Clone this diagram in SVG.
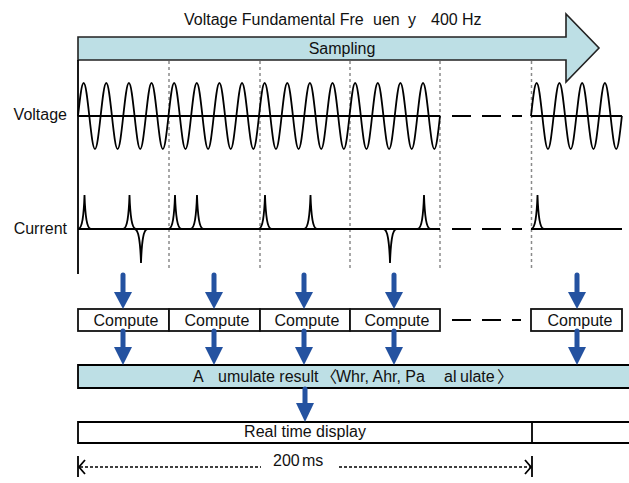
<svg xmlns="http://www.w3.org/2000/svg" xmlns:xlink="http://www.w3.org/1999/xlink" width="629" height="483" viewBox="0 0 629 483">
<style>
text{font-family:"Liberation Sans",Arial,"Noto Sans CJK JP",sans-serif;font-size:16px;fill:#111}
.cjk{font-family:"Noto Sans CJK JP","Liberation Sans",sans-serif}
.w{fill:none;stroke:#000;stroke-width:1.8}
.box{fill:#fff;stroke:#111;stroke-width:1.8}
.blue{fill:#bddfe5;stroke:#222;stroke-width:1.6}
.grid{stroke:#8a8a8a;stroke-width:1.5;stroke-dasharray:3 3;fill:none}
.gap{stroke:#000;stroke-width:1.8;stroke-dasharray:19 11;fill:none}
.sh{stroke:#2452a0;stroke-width:5;stroke-linecap:round;fill:none}
.hd{fill:#2452a0}
</style>
<defs>
<path id="per" class="w" d="M0,0 C1.845,-16.9 3.609,-33 5.656,-33 C7.703,-33 9.467,-16.9 11.3125,0 C13.158,16.9 14.922,33 16.969,33 C19.016,33 20.78,16.9 22.625,0"/>
<path id="spk" class="w" d="M-6.5,0 C-2.2,0 -0.7,-14 0,-34 C0.7,-14 2.2,0 6.5,0"/>
</defs>

<text x="184" y="25">Voltage Fundamental Fre<tspan x="373">uen</tspan><tspan x="408">y</tspan><tspan x="431">400</tspan><tspan x="462">Hz</tspan></text>

<g id="sampling">
<polygon class="blue" points="78,37 566,37 566,14 599,48 566,82 566,60 78,60"/>
<text x="342" y="54" text-anchor="middle">Sampling</text>
</g>

<g id="grid">
<line class="grid" x1="169" y1="61" x2="169" y2="271"/>
<line class="grid" x1="260" y1="61" x2="260" y2="271"/>
<line class="grid" x1="350" y1="61" x2="350" y2="271"/>
<line class="grid" x1="440" y1="61" x2="440" y2="271"/>
<line class="grid" x1="531.5" y1="61" x2="531.5" y2="271"/>
<line class="w" x1="78" y1="60" x2="78" y2="274"/>
</g>

<g id="voltage">
<text x="67" y="120" text-anchor="end">Voltage</text>
<line class="w" x1="78" y1="116" x2="440" y2="116"/>
<line class="w" x1="531" y1="116" x2="622" y2="116"/>
<line class="gap" x1="452" y1="116" x2="522" y2="116"/>
<use xlink:href="#per" x="78" y="116"/>
<use xlink:href="#per" x="100.625" y="116"/>
<use xlink:href="#per" x="123.25" y="116"/>
<use xlink:href="#per" x="145.875" y="116"/>
<use xlink:href="#per" x="168.5" y="116"/>
<use xlink:href="#per" x="191.125" y="116"/>
<use xlink:href="#per" x="213.75" y="116"/>
<use xlink:href="#per" x="236.375" y="116"/>
<use xlink:href="#per" x="259" y="116"/>
<use xlink:href="#per" x="281.625" y="116"/>
<use xlink:href="#per" x="304.25" y="116"/>
<use xlink:href="#per" x="326.875" y="116"/>
<use xlink:href="#per" x="349.5" y="116"/>
<use xlink:href="#per" x="372.125" y="116"/>
<use xlink:href="#per" x="394.75" y="116"/>
<use xlink:href="#per" x="417.375" y="116"/>
<use xlink:href="#per" x="531" y="116"/>
<use xlink:href="#per" x="553.75" y="116"/>
<use xlink:href="#per" x="576.5" y="116"/>
<use xlink:href="#per" x="599.25" y="116"/>
</g>

<g id="current">
<text x="67" y="234" text-anchor="end">Current</text>
<line class="w" x1="78" y1="229" x2="440" y2="229"/>
<line class="w" x1="531" y1="229" x2="622" y2="229"/>
<line class="gap" x1="452" y1="229" x2="522" y2="229"/>
<use xlink:href="#spk" transform="translate(84.5,229)"/>
<use xlink:href="#spk" transform="translate(129.5,229)"/>
<use xlink:href="#spk" transform="translate(141,229) scale(1,-1)"/>
<use xlink:href="#spk" transform="translate(175,229)"/>
<use xlink:href="#spk" transform="translate(197,229)"/>
<use xlink:href="#spk" transform="translate(265,229)"/>
<use xlink:href="#spk" transform="translate(310.5,229)"/>
<use xlink:href="#spk" transform="translate(390,229) scale(1,-1)"/>
<use xlink:href="#spk" transform="translate(424,229)"/>
<use xlink:href="#spk" transform="translate(537.5,229)"/>
</g>

<g id="compute1"><rect class="box" x="78" y="309" width="91" height="22"/><text x="126" y="325.5" text-anchor="middle">Compute</text></g>
<g id="compute2"><rect class="box" x="169" y="309" width="91" height="22"/><text x="217" y="325.5" text-anchor="middle">Compute</text></g>
<g id="compute3"><rect class="box" x="260" y="309" width="90" height="22"/><text x="307" y="325.5" text-anchor="middle">Compute</text></g>
<g id="compute4"><rect class="box" x="350" y="309" width="90" height="22"/><text x="397" y="325.5" text-anchor="middle">Compute</text></g>
<g id="compute5"><rect class="box" x="531" y="309" width="91" height="22"/><text x="580" y="325.5" text-anchor="middle">Compute</text></g>
<line class="gap" x1="452" y1="320" x2="521" y2="320"/>

<g id="accumulate">
<rect x="78" y="365" width="551" height="23" fill="#bddfe5"/>
<polyline class="w" points="629,365 78,365 78,388 629,388"/>
<text y="382"><tspan x="193">A</tspan><tspan x="218">umulate result</tspan><tspan class="cjk" x="321">〈</tspan><tspan x="336">Whr, Ahr, Pa</tspan><tspan x="444">al</tspan><tspan x="460">ulate</tspan><tspan class="cjk" x="497">〉</tspan></text>
</g>

<g id="display">
<polyline class="w" points="629,422 78,422 78,443 629,443"/>
<line class="w" x1="532" y1="422" x2="532" y2="443"/>
<text x="305" y="437" text-anchor="middle">Real time display</text>
</g>

<g id="connectors">
<g>
<line class="sh" x1="123" y1="275" x2="123" y2="294"/><polygon class="hd" points="114,292 132,292 123,309"/>
<line class="sh" x1="214" y1="275" x2="214" y2="294"/><polygon class="hd" points="205,292 223,292 214,309"/>
<line class="sh" x1="304" y1="275" x2="304" y2="294"/><polygon class="hd" points="295,292 313,292 304,309"/>
<line class="sh" x1="394" y1="275" x2="394" y2="294"/><polygon class="hd" points="385,292 403,292 394,309"/>
<line class="sh" x1="577" y1="275" x2="577" y2="294"/><polygon class="hd" points="568,292 586,292 577,309"/>
</g>
<g>
<line class="sh" x1="123" y1="331" x2="123" y2="349"/><polygon class="hd" points="114,347 132,347 123,365"/>
<line class="sh" x1="214" y1="331" x2="214" y2="349"/><polygon class="hd" points="205,347 223,347 214,365"/>
<line class="sh" x1="304" y1="331" x2="304" y2="349"/><polygon class="hd" points="295,347 313,347 304,365"/>
<line class="sh" x1="394" y1="331" x2="394" y2="349"/><polygon class="hd" points="385,347 403,347 394,365"/>
<line class="sh" x1="577" y1="331" x2="577" y2="349"/><polygon class="hd" points="568,347 586,347 577,365"/>
</g>
<line class="sh" x1="305" y1="389" x2="305" y2="405"/><polygon class="hd" points="296,403 314,403 305,422"/>
</g>

<g id="dimension">
<line class="w" x1="78" y1="456" x2="78" y2="477" stroke-width="1.5"/>
<line class="w" x1="532" y1="456" x2="532" y2="477" stroke-width="1.5"/>
<line x1="80" y1="467" x2="261" y2="467" stroke="#000" stroke-width="1.3" stroke-dasharray="3 2"/>
<line x1="339" y1="467" x2="530" y2="467" stroke="#000" stroke-width="1.3" stroke-dasharray="3 2"/>
<polyline class="w" stroke-width="1.4" points="85,460 79,467 85,474"/>
<polyline class="w" stroke-width="1.4" points="525,460 531,467 525,474"/>
<text y="466"><tspan x="273">200</tspan><tspan x="302">ms</tspan></text>
</g>
</svg>
